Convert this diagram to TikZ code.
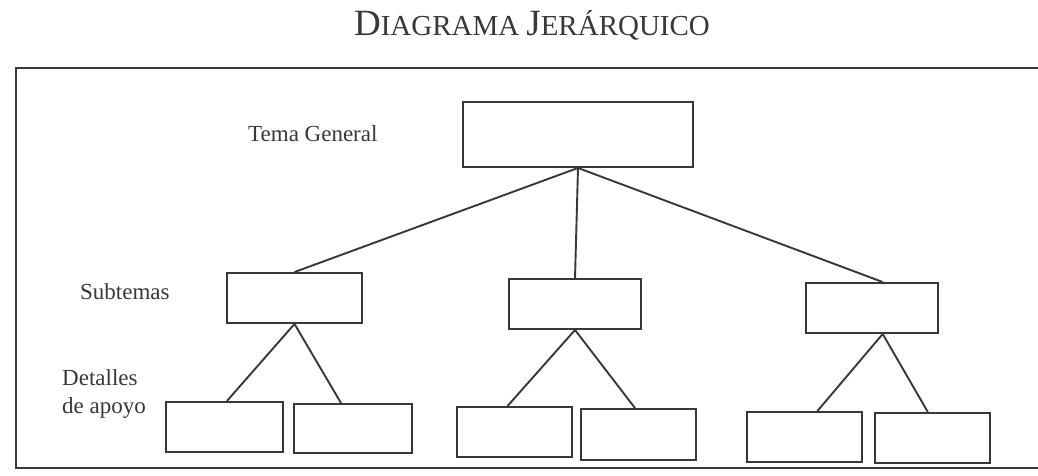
\documentclass[tikz,border=0pt]{standalone}
\usepackage{fontspec}
\setmainfont{Liberation Serif}
\usetikzlibrary{calc}
\definecolor{ink}{HTML}{383838}
\tikzset{
  boxnode/.style={draw=ink, line width=1.9pt, rectangle, inner sep=0pt},
  conn/.style={draw=ink, line width=1.9pt},
  lbl/.style={inner sep=0pt, text=ink, font=\fontsize{23}{28}\selectfont},
}
\begin{document}
\begin{tikzpicture}[x=1pt, y=-1pt]
\useasboundingbox (0,0) rectangle (1038,476);
\fill[white] (0,0) rectangle (1038,476);
% title
\node[inner sep=0pt, anchor=base, text=ink] (title) at (532,36)
  {{\fontsize{37}{37}\selectfont D}{\fontsize{29}{29}\selectfont IAGRAMA}\hspace{7pt}{\fontsize{37}{37}\selectfont J}{\fontsize{29}{29}\selectfont ERÁRQUICO}};
% frame
\draw[ink, line width=1.9pt] (1040,68) -- (16,68) -- (16,468) -- (1040,468);
% labels
\node[lbl, anchor=base west] (ltema) at (248,142) {Tema General};
\node[lbl, anchor=base west] (lsub) at (80,299) {Subtemas};
\node[lbl, anchor=base west, align=left] (ldet) at (62,413) {Detalles\\de apoyo};
% boxes
\node[boxnode, minimum width=230pt, minimum height=65pt] (top) at (578,134.5) {};
\node[boxnode, minimum width=135pt, minimum height=50pt] (s1) at (294.5,298) {};
\node[boxnode, minimum width=132pt, minimum height=50pt] (s2) at (575,304) {};
\node[boxnode, minimum width=132pt, minimum height=50pt] (s3) at (872,308) {};
\node[boxnode, minimum width=117pt, minimum height=50pt] (d1) at (224.5,427) {};
\node[boxnode, minimum width=118pt, minimum height=49pt] (d2) at (353,428.5) {};
\node[boxnode, minimum width=115pt, minimum height=50pt] (d3) at (514.5,432) {};
\node[boxnode, minimum width=115pt, minimum height=51pt] (d4) at (638.5,434.5) {};
\node[boxnode, minimum width=115pt, minimum height=50pt] (d5) at (804.5,437) {};
\node[boxnode, minimum width=115pt, minimum height=50pt] (d6) at (932.5,438) {};
% connectors
\draw[conn] (top.south) -- (s1.north);
\draw[conn] (top.south) -- (s2.north);
\draw[conn] (top.south) -- ($(s3.north west)!0.58!(s3.north east)$);
\draw[conn] (s1.south) -- ($(d1.north west)!0.52!(d1.north east)$);
\draw[conn] (s1.south) -- ($(d2.north west)!0.40!(d2.north east)$);
\draw[conn] (s2.south) -- ($(d3.north west)!0.44!(d3.north east)$);
\draw[conn] (s2.south) -- ($(d4.north west)!0.47!(d4.north east)$);
\draw[conn] ($(s3.south west)!0.58!(s3.south east)$) -- ($(d5.north west)!0.61!(d5.north east)$);
\draw[conn] ($(s3.south west)!0.58!(s3.south east)$) -- ($(d6.north west)!0.46!(d6.north east)$);
\end{tikzpicture}
\end{document}
